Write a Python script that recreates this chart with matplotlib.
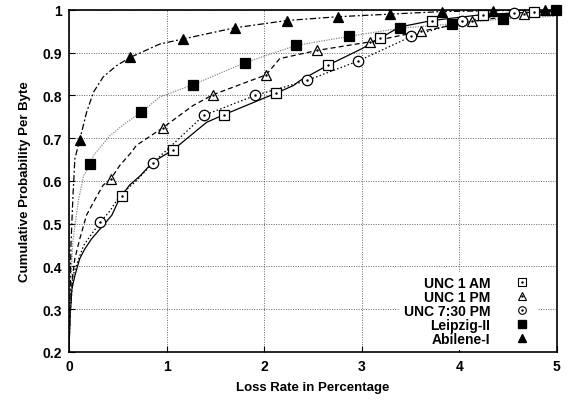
import matplotlib
matplotlib.use("Agg")
import matplotlib.pyplot as plt
from matplotlib.lines import Line2D
from matplotlib.legend_handler import HandlerTuple

plt.rcParams['font.family'] = ['Liberation Sans', 'DejaVu Sans']
plt.rcParams['font.weight'] = 'bold'

labels = ['UNC 1 AM', 'UNC 1 PM', 'UNC 7:30 PM', 'Leipzig-II', 'Abilene-I']

# CDF curves (loss rate %, cumulative probability per byte)
am_x = [0, 0.01, 0.03, 0.06, 0.11, 0.16, 0.23, 0.32, 0.44, 0.5, 0.54, 0.62, 0.73, 0.86, 1.07, 1.41,
        1.59, 2.12, 2.3, 2.37, 2.65, 3.0, 3.19, 3.39, 3.72, 4.24, 4.77, 5.0]
am_y = [0.2, 0.28, 0.347, 0.378, 0.418, 0.44, 0.464, 0.488, 0.52, 0.55, 0.565, 0.59, 0.612, 0.644, 0.673, 0.737,
        0.755, 0.805, 0.823, 0.835, 0.87, 0.909, 0.934, 0.96, 0.975, 0.989, 0.995, 0.998]
pm_x = [0, 0.01, 0.03, 0.06, 0.11, 0.18, 0.27, 0.35, 0.43, 0.52, 0.64, 0.69, 0.96, 1.27, 1.48, 2.02,
        2.16, 2.54, 3.08, 3.61, 4.13, 4.66, 5.0]
pm_y = [0.2, 0.28, 0.363, 0.418, 0.464, 0.52, 0.558, 0.59, 0.605, 0.636, 0.667, 0.683, 0.724, 0.776, 0.802, 0.848,
        0.886, 0.905, 0.925, 0.95, 0.973, 0.99, 0.997]
ev_x = [0, 0.01, 0.04, 0.1, 0.15, 0.22, 0.32, 0.42, 0.5, 0.59, 0.69, 0.86, 1.38, 1.91, 2.44, 2.96,
        3.51, 4.03, 4.56, 5.0]
ev_y = [0.2, 0.28, 0.378, 0.418, 0.449, 0.472, 0.503, 0.53, 0.558, 0.58, 0.6, 0.642, 0.753, 0.80, 0.835, 0.88,
        0.938, 0.973, 0.992, 0.998]
lz_x = [0, 0.01, 0.03, 0.04, 0.06, 0.1, 0.15, 0.22, 0.25, 0.42, 0.59, 0.74, 0.93, 1.27, 1.8, 2.33,
        2.87, 3.39, 3.93, 4.45, 4.97, 5.0]
lz_y = [0.2, 0.3, 0.418, 0.457, 0.495, 0.558, 0.612, 0.64, 0.659, 0.706, 0.737, 0.76, 0.796, 0.825, 0.876, 0.917,
        0.938, 0.957, 0.967, 0.979, 0.985, 1.0]
ab_x = [0, 0.01, 0.02, 0.04, 0.06, 0.11, 0.18, 0.25, 0.35, 0.49, 0.63, 0.93, 1.17, 1.7, 2.23, 2.76,
        3.29, 3.82, 4.35, 4.88, 5.0]
ab_y = [0.2, 0.3, 0.45, 0.56, 0.651, 0.696, 0.76, 0.807, 0.843, 0.87, 0.889, 0.92, 0.932, 0.958, 0.975, 0.984,
        0.99, 0.996, 0.998, 1.0, 1.0]

# sample points marked on each curve
am_mx = [0.54, 1.07, 1.59, 2.12, 2.65, 3.19, 3.72, 4.24, 4.77]
am_my = [0.565, 0.673, 0.755, 0.805, 0.87, 0.934, 0.975, 0.989, 0.995]
pm_mx = [0.43, 0.96, 1.48, 2.02, 2.54, 3.08, 3.61, 4.13, 4.66]
pm_my = [0.605, 0.724, 0.802, 0.848, 0.905, 0.925, 0.95, 0.973, 0.99]
ev_mx = [0.32, 0.86, 1.38, 1.91, 2.44, 2.96, 3.51, 4.03, 4.56]
ev_my = [0.503, 0.642, 0.753, 0.80, 0.835, 0.88, 0.938, 0.973, 0.992]
lz_mx = [0.22, 0.74, 1.27, 1.8, 2.33, 2.87, 3.39, 3.93, 4.45, 4.99]
lz_my = [0.64, 0.76, 0.825, 0.876, 0.917, 0.938, 0.957, 0.967, 0.979, 1.0]
ab_mx = [0.11, 0.63, 1.17, 1.7, 2.23, 2.76, 3.29, 3.82, 4.35, 4.88]
ab_my = [0.696, 0.889, 0.932, 0.958, 0.975, 0.984, 0.99, 0.996, 0.998, 1.0]

series = [
    (am_x, am_y, am_mx, am_my, 's', False, 'black', (None, None)),
    (pm_x, pm_y, pm_mx, pm_my, '^', False, 'black', (4, 2.5)),
    (ev_x, ev_y, ev_mx, ev_my, 'o', False, 'black', (1.2, 1.8)),
    (lz_x, lz_y, lz_mx, lz_my, 's', True, '0.55', (1, 1)),
    (ab_x, ab_y, ab_mx, ab_my, '^', True, 'black', (5, 2, 1.5, 2)),
]

fig = plt.figure(figsize=(5.7, 4.02), dpi=100)
ax = fig.add_axes([0.121, 0.122, 0.856, 0.851])

handles = []
for x, y, mx, my, mk, filled, col, dash in series:
    ln, = ax.plot(x, y, color=col, lw=0.9)
    if dash[0] is not None:
        ln.set_dashes(dash)
    ms = 7 if mk == 's' else 7.5
    ax.plot(mx, my, ls='none', marker=mk, ms=ms, mfc='black' if filled else 'white',
            mec='black', mew=0.9, clip_on=False, zorder=3)
    if filled:
        handles.append(Line2D([], [], ls='none', marker=mk, ms=5.5, mfc='black', mec='black'))
    else:
        ax.plot(mx, my, ls='none', marker='.', ms=1.5, color='black', clip_on=False, zorder=4)
        h1 = Line2D([], [], ls='none', marker=mk, ms=5.5, mfc='white', mec='black', mew=0.8)
        h2 = Line2D([], [], ls='none', marker='.', ms=1.5, color='black')
        handles.append((h1, h2))

ax.set_xlim(0, 5)
ax.set_ylim(0.2, 1)
ax.set_xticks([0, 1, 2, 3, 4, 5])
ax.set_yticks([0.2, 0.3, 0.4, 0.5, 0.6, 0.7, 0.8, 0.9, 1])
ax.set_yticklabels(['0.2', '0.3', '0.4', '0.5', '0.6', '0.7', '0.8', '0.9', '1'])
ax.tick_params(direction='in', length=4, width=0.8, labelsize=10, pad=5)
for lab in ax.get_xticklabels() + ax.get_yticklabels():
    lab.set_fontweight('bold')
ax.grid(True, color='0.4', lw=0.7, ls=(0, (1, 1.5)))
for sp in ax.spines.values():
    sp.set_linewidth(1.2)

ax.set_xlabel('Loss Rate in Percentage', fontsize=9.5, fontweight='bold', labelpad=6)
ax.set_ylabel('Cumulative Probability Per Byte', fontsize=9.5, fontweight='bold', labelpad=8)

# legend sits on a blank white box that hides the grid behind it
leg = ax.legend(handles, labels, loc='lower right', bbox_to_anchor=(0.96, 0.006),
                frameon=True, fancybox=False, facecolor='white', edgecolor='none', framealpha=1,
                markerfirst=False, fontsize=10, labelspacing=0.0,
                handlelength=1.6, handletextpad=1.5, borderpad=0.3, borderaxespad=0,
                handler_map={tuple: HandlerTuple(ndivide=1, pad=0)})
for t in leg.get_texts():
    t.set_fontweight('bold')

fig.savefig('out.png', dpi=100)
